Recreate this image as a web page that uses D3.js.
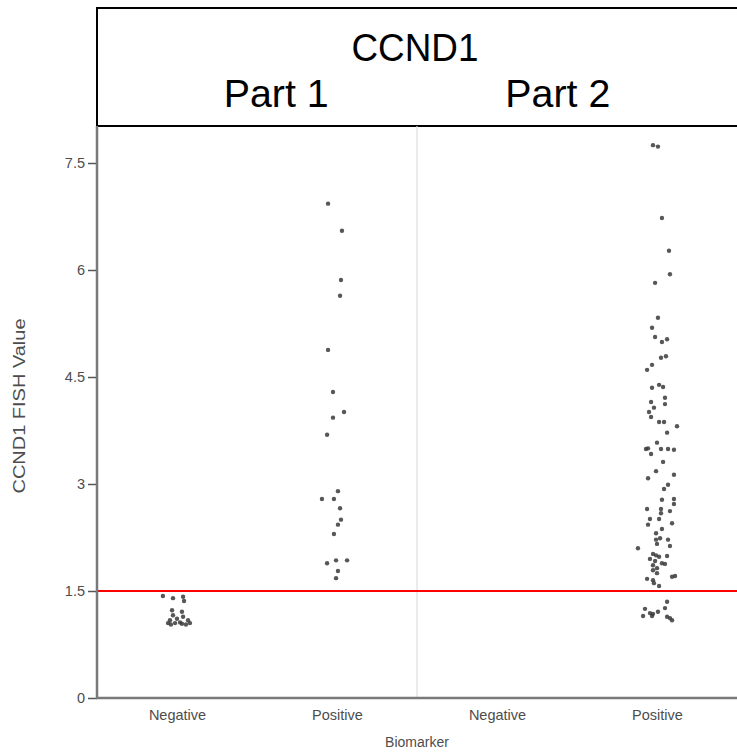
<!DOCTYPE html>
<html>
<head>
<meta charset="utf-8">
<script src="https://cdn.jsdelivr.net/npm/d3@7"></script>
<style>
  html, body { margin: 0; padding: 0; background: #fff; }
  svg { display: block; font-family: "Liberation Sans", Arial, sans-serif; }
</style>
</head>
<body>
<svg id="chart" width="737" height="752"></svg>
<script>
// Facet panels and categories
const overTitle = "CCND1";
const panels = ["Part 1", "Part 2"];
const categories = ["Negative", "Positive"];
const yTicks = [0, 1.5, 3, 4.5, 6, 7.5];
const yTickLabels = ["0", "1.5", "3", "4.5", "6", "7.5"];
const cutoff = 1.5;

// Jittered observations: [category position (1 = Negative, 2 = Positive) + jitter, FISH value]
const part1Negative = [
  [0.912, 1.43], [0.975, 1.40], [1.038, 1.42], [1.044, 1.36], [0.969, 1.23],
  [1.031, 1.21], [0.975, 1.16], [1.038, 1.14], [0.956, 1.09], [1.000, 1.11],
  [1.069, 1.09], [0.944, 1.05], [0.988, 1.05], [1.019, 1.06], [1.031, 1.04],
  [1.081, 1.05], [0.962, 1.03], [1.056, 1.03]
];
const part1Positive = [
  [1.944, 6.93], [2.031, 6.55], [2.025, 5.86], [2.019, 5.64], [1.944, 4.88],
  [1.975, 4.29], [2.044, 4.01], [1.975, 3.93], [1.938, 3.69], [2.006, 2.90],
  [1.906, 2.79], [1.981, 2.79], [2.019, 2.66], [2.025, 2.50], [2.006, 2.43],
  [1.981, 2.30], [1.938, 1.89], [1.994, 1.93], [2.063, 1.93], [2.006, 1.78],
  [1.994, 1.68]
];
const part2Negative = [];
const part2Positive = [
  [1.975, 7.75], [2.006, 7.73], [2.031, 6.73], [2.075, 6.27], [2.081, 5.94],
  [1.988, 5.82], [2.006, 5.33], [1.969, 5.19], [1.988, 5.06], [2.063, 5.03],
  [2.031, 4.99], [2.025, 4.77], [2.056, 4.79], [1.969, 4.67], [1.938, 4.60],
  [1.969, 4.35], [2.013, 4.39], [2.038, 4.36], [2.050, 4.21], [2.050, 4.12],
  [1.963, 4.15], [1.981, 4.07], [1.950, 4.01], [1.963, 3.94], [2.013, 3.87],
  [2.044, 3.87], [2.125, 3.81], [2.063, 3.72], [2.000, 3.58], [1.944, 3.50],
  [1.931, 3.49], [1.963, 3.42], [2.025, 3.49], [2.069, 3.49], [2.106, 3.48],
  [2.038, 3.31], [1.994, 3.18], [2.106, 3.13], [1.944, 3.08], [2.069, 2.99],
  [2.044, 2.93], [2.031, 2.78], [2.106, 2.79], [2.106, 2.72], [1.938, 2.65],
  [2.025, 2.65], [2.025, 2.59], [2.081, 2.62], [1.956, 2.51], [2.013, 2.51],
  [1.944, 2.43], [2.094, 2.45], [1.994, 2.31], [2.031, 2.37], [1.994, 2.22],
  [2.019, 2.24], [2.069, 2.22], [2.000, 2.16], [2.081, 2.13], [1.881, 2.10],
  [1.975, 2.02], [1.994, 2.00], [2.013, 1.98], [2.063, 1.99], [1.956, 1.95],
  [1.988, 1.92], [2.031, 1.89], [1.975, 1.86], [2.050, 1.88], [2.000, 1.82],
  [1.975, 1.79], [2.000, 1.75], [1.938, 1.67], [1.975, 1.65], [2.094, 1.70],
  [2.113, 1.71], [2.013, 1.57], [1.981, 1.61], [2.063, 1.35], [2.050, 1.26],
  [1.925, 1.25], [1.956, 1.19], [1.975, 1.18], [2.006, 1.21], [1.913, 1.15],
  [1.969, 1.15], [2.063, 1.14], [2.081, 1.12], [2.094, 1.09]
];

const panelData = [
  part1Negative.concat(part1Positive),
  part2Negative.concat(part2Positive)
];

// Layout
const svg = d3.select("#chart");
const plotLeft = 97, plotTop = 126, plotBottom = 698;
const panelWidth = 320;
const stripTop = 8;
const axisGrey = "#4d4d4d";

const y = d3.scaleLinear().domain([0, 7.5]).range([plotBottom, 163]);
const x = d3.scaleLinear().domain([0.5, 2.5]).range([0, panelWidth]);

// Strip header
svg.append("rect")
  .attr("x", plotLeft).attr("y", stripTop)
  .attr("width", panelWidth * 2 + 20).attr("height", plotTop - stripTop)
  .attr("fill", "#fff").attr("stroke", "#000").attr("stroke-width", 2);

svg.append("text")
  .attr("x", plotLeft + panelWidth - 2).attr("y", 61)
  .attr("text-anchor", "middle").attr("font-size", 38).attr("fill", "#000")
  .attr("textLength", 127).attr("lengthAdjust", "spacingAndGlyphs")
  .text(overTitle);

panels.forEach((p, i) => {
  svg.append("text")
    .attr("x", plotLeft + panelWidth * i + panelWidth * (i === 0 ? 0.56 : 0.44))
    .attr("y", 107)
    .attr("text-anchor", "middle").attr("font-size", 38).attr("fill", "#000")
    .attr("textLength", 105).attr("lengthAdjust", "spacingAndGlyphs")
    .text(p);
});

// Panels
panels.forEach((p, i) => {
  const g = svg.append("g")
    .attr("transform", `translate(${plotLeft + panelWidth * i},0)`);

  g.selectAll("circle")
    .data(panelData[i])
    .join("circle")
    .attr("cx", d => x(d[0]))
    .attr("cy", d => y(d[1]))
    .attr("r", 2.2)
    .attr("fill", "#3a3a3a")
    .attr("fill-opacity", 0.85);

  // category axis
  const xAxis = d3.axisBottom(x)
    .tickValues([1, 2])
    .tickFormat((d, k) => categories[k])
    .tickSize(0)
    .tickPadding(12);
  const ax = g.append("g")
    .attr("transform", `translate(0,${plotBottom})`)
    .call(xAxis);
  ax.select(".domain").remove();
  ax.selectAll("text")
    .attr("font-size", 14.5).attr("fill", axisGrey)
    .attr("font-family", "'Liberation Sans', Arial, sans-serif");
});

// Divider between panels
svg.append("line")
  .attr("x1", plotLeft + panelWidth).attr("x2", plotLeft + panelWidth)
  .attr("y1", plotTop).attr("y2", plotBottom)
  .attr("stroke", "#dedede").attr("stroke-width", 1.2);

// Cutoff line
svg.append("line")
  .attr("x1", plotLeft).attr("x2", plotLeft + panelWidth * 2)
  .attr("y1", y(cutoff)).attr("y2", y(cutoff))
  .attr("stroke", "#ff0000").attr("stroke-width", 2);

// Y axis
const yAxis = d3.axisLeft(y)
  .tickValues(yTicks)
  .tickFormat((d, k) => yTickLabels[k])
  .tickSize(9)
  .tickPadding(3);
const ay = svg.append("g")
  .attr("transform", `translate(${plotLeft},0)`)
  .call(yAxis);
ay.select(".domain").remove();
ay.selectAll(".tick line").attr("stroke", "#555").attr("stroke-width", 1.5);
ay.selectAll("text")
  .attr("font-size", 14.5).attr("fill", axisGrey)
  .attr("font-family", "'Liberation Sans', Arial, sans-serif");

// Axis lines
svg.append("line")
  .attr("x1", plotLeft).attr("x2", plotLeft)
  .attr("y1", plotTop).attr("y2", plotBottom + 1)
  .attr("stroke", "#7a7a7a").attr("stroke-width", 2.5);
svg.append("line")
  .attr("x1", plotLeft - 1).attr("x2", plotLeft + panelWidth * 2)
  .attr("y1", plotBottom).attr("y2", plotBottom)
  .attr("stroke", "#7a7a7a").attr("stroke-width", 2.5);

// Axis titles
svg.append("text")
  .attr("transform", `translate(25,${(plotTop + plotBottom) / 2 - 6}) rotate(-90)`)
  .attr("text-anchor", "middle").attr("font-size", 16).attr("fill", axisGrey)
  .attr("textLength", 175).attr("lengthAdjust", "spacingAndGlyphs")
  .text("CCND1 FISH Value");
svg.append("text")
  .attr("x", plotLeft + panelWidth).attr("y", 747)
  .attr("text-anchor", "middle").attr("font-size", 14).attr("fill", axisGrey)
  .text("Biomarker");
</script>
</body>
</html>
